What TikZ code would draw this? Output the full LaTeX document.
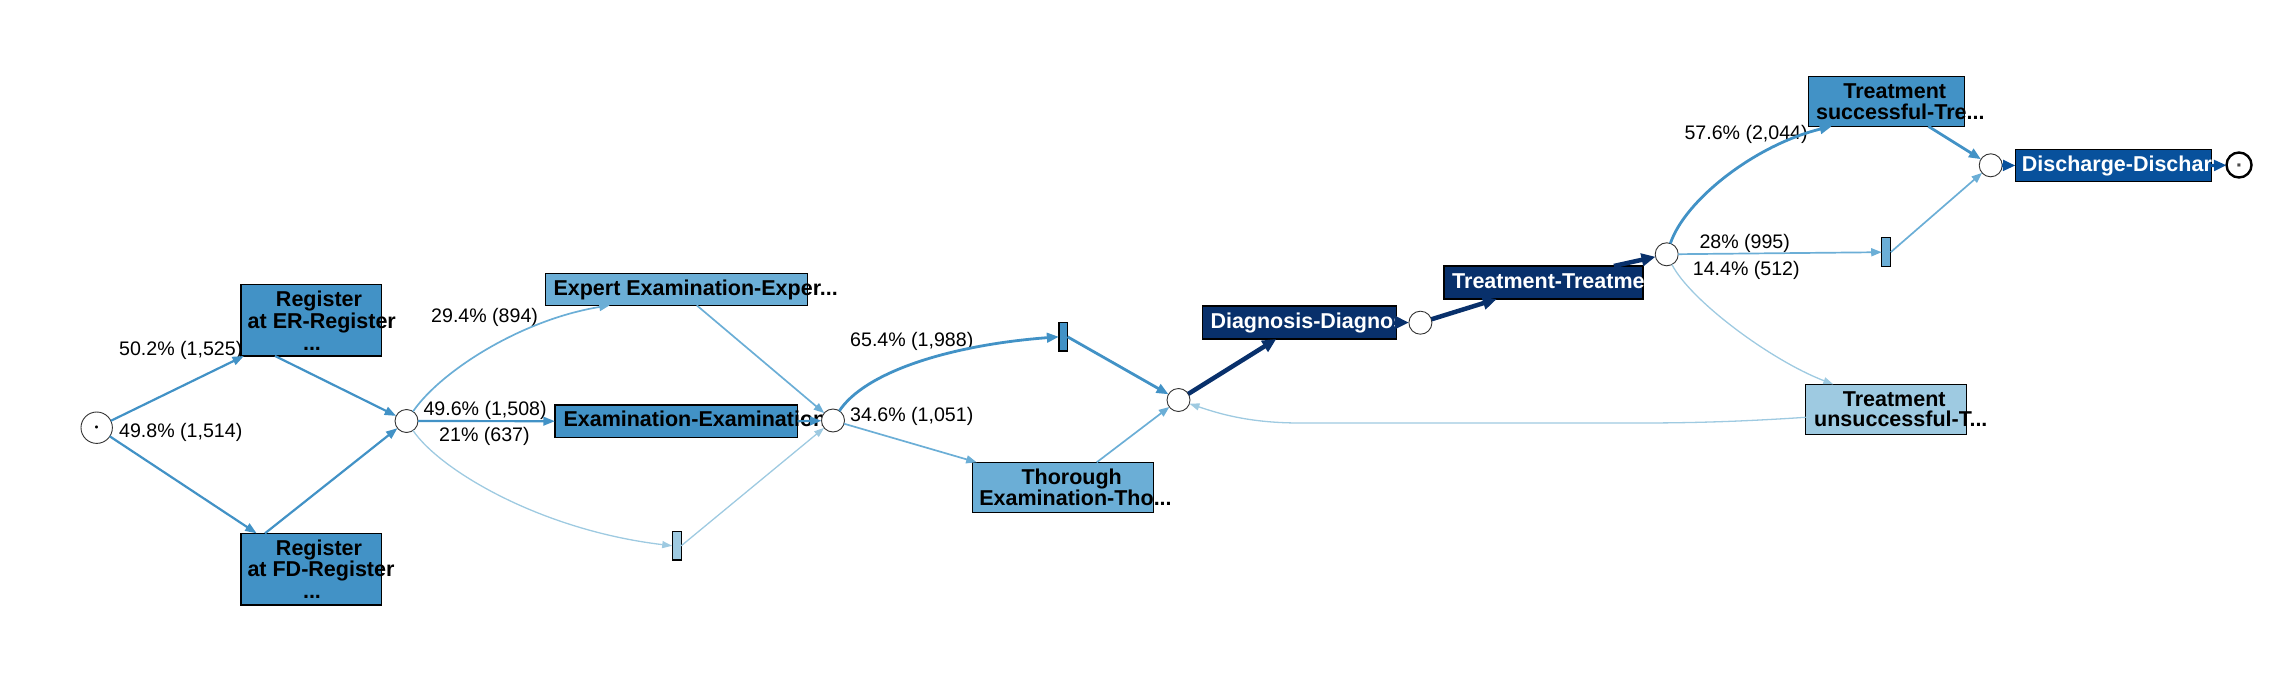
\documentclass[tikz,border=0pt]{standalone}
\usepackage{fontspec}
\setmainfont{Liberation Sans}
\newfontfamily\symfont{DejaVu Sans}
\usetikzlibrary{arrows.meta}
\definecolor{bA}{HTML}{9ECAE1}
\definecolor{bB}{HTML}{6BAED6}
\definecolor{bC}{HTML}{4292C6}
\definecolor{bD}{HTML}{08519C}
\definecolor{bE}{HTML}{08306B}
\begin{document}
\begin{tikzpicture}[x=1pt,y=-1pt,
  place/.style={circle,draw=black!80,line width=0.9pt,fill=white,minimum size=23pt,inner sep=0pt,outer sep=0pt},
  trans/.style={rectangle,draw=black,line width=1.3pt,inner sep=0pt,outer sep=0pt},
  lbl/.style={font=\fontsize{19.6}{23}\selectfont,inner sep=0pt,anchor=base west},
  btxt/.style={font=\fontsize{21.5}{25}\selectfont\bfseries,inner sep=0pt,anchor=base},
  btxtw/.style={btxt,anchor=base west},
  eA/.style={draw=bA,line width=1.3pt,-{Triangle[length=10pt,width=7pt]}},
  eB/.style={draw=bB,line width=1.7pt,-{Triangle[length=10.5pt,width=8pt]}},
  eC/.style={draw=bC,line width=2.2pt,-{Triangle[length=11.5pt,width=8.5pt]}},
  eCC/.style={draw=bC,line width=2.8pt,-{Triangle[length=12pt,width=9.5pt]}},
  eD/.style={draw=bD,line width=3.3pt,-{Triangle[length=12.5pt,width=10.5pt]}},
  eE/.style={draw=bE,line width=4.5pt,-{Triangle[length=14pt,width=12.5pt]}}
]
\useasboundingbox (0,0) rectangle (2282,674);

% transitions (boxes)
\node[trans,fill=bC,minimum width=140.7pt,minimum height=71.3pt] (regER) at (311.3,320.3) {};
\node[trans,fill=bC,minimum width=140.7pt,minimum height=71.7pt] (regFD) at (311.3,569.2) {};
\node[trans,fill=bB,minimum width=262pt,minimum height=32pt] (expert) at (676.7,289.3) {};
\node[trans,fill=bC,minimum width=242.7pt,minimum height=32.3pt] (exam) at (676.3,421.2) {};
\node[trans,fill=bA,minimum width=9pt,minimum height=28.3pt] (rb) at (676.7,545.8) {};
\node[trans,fill=bC,minimum width=8.7pt,minimum height=28.3pt] (ru) at (1063.2,336.8) {};
\node[trans,fill=bB,minimum width=181pt,minimum height=50pt] (thor) at (1062.8,487.3) {};
\node[trans,fill=bE,minimum width=194pt,minimum height=33pt] (diag) at (1299.3,322.5) {};
\node[trans,fill=bE,minimum width=199pt,minimum height=33pt] (treat) at (1543.6,282.5) {};
\node[trans,fill=bC,minimum width=156pt,minimum height=49.6pt] (tsucc) at (1886.3,101.5) {};
\node[trans,fill=bB,minimum width=9pt,minimum height=29pt] (rr) at (1886.2,252.2) {};
\node[trans,fill=bA,minimum width=161pt,minimum height=50pt] (tuns) at (1886.2,409.3) {};
\node[trans,fill=bD,minimum width=195.7pt,minimum height=32.4pt] (disch) at (2113.3,165.5) {};

% box texts
\node[btxt] (tR1) at (319,306.7) {Register};
\node[btxt] (tR2) at (321.8,328.3) {at ER-Register};
\node[btxt] (tR3) at (312,350) {...};
\node[btxt] (tF1) at (319,555.3) {Register};
\node[btxt] (tF2) at (321,576.9) {at FD-Register};
\node[btxt] (tF3) at (312,598.6) {...};
\node[btxtw] (tEx) at (553.3,295) {Expert Examination-Exper...};
\node[btxtw] (tEm) at (563.3,426.7) {Examination-Examination};
\node[btxt] (tT1) at (1071.7,484.3) {Thorough};
\node[btxt] (tT2) at (1075.5,505) {Examination-Tho...};
\node[btxtw,text=white] (tDg) at (1210.3,328.3) {Diagnosis-Diagnosis};
\node[btxtw,text=white] (tTr) at (1452,288.3) {Treatment-Treatment};
\node[btxt] (tS1) at (1894.7,98.3) {Treatment};
\node[btxt] (tS2) at (1900.3,120) {successful-Tre...};
\node[btxt] (tU1) at (1894.2,406) {Treatment};
\node[btxt] (tU2) at (1900.8,426.7) {unsuccessful-T...};
\node[btxtw,text=white] (tDc) at (2021.7,171) {Discharge-Discharge};

% places
\node[place,minimum size=31.4pt] (start) at (96.7,427.7) {};
\node[font=\symfont\fontsize{4}{4}\selectfont,inner sep=0pt] (sdot) at (start) {●};
\node[place] (c1) at (406.5,421) {};
\node[place] (c2) at (833,420.5) {};
\node[place] (c3) at (1178.5,400) {};
\node[place] (c4) at (1420.4,322.7) {};
\node[place] (c5) at (1666.7,254.3) {};
\node[place] (c6) at (1990.7,165.3) {};
\node[place,draw=black,line width=2.4pt,minimum size=25pt] (endc) at (2239,165) {};
\node[font=\symfont\fontsize{4}{4}\selectfont,inner sep=0pt,text=black!70] (edot) at (endc) {■};

% labels
\node[lbl] (l1) at (119,355) {50.2\% (1,525)};
\node[lbl] (l2) at (119,437.3) {49.8\% (1,514)};
\node[lbl] (l3) at (431,322.7) {29.4\% (894)};
\node[lbl] (l4) at (423.3,415) {49.6\% (1,508)};
\node[lbl] (l5) at (439,441.7) {21\% (637)};
\node[lbl] (l6) at (850,346.7) {65.4\% (1,988)};
\node[lbl] (l7) at (850,421.7) {34.6\% (1,051)};
\node[lbl] (l8) at (1684.3,139.3) {57.6\% (2,044)};
\node[lbl] (l9) at (1699.3,248.3) {28\% (995)};
\node[lbl] (l10) at (1692.7,275) {14.4\% (512)};

% edges
\draw[eC] (start) -- ([xshift=3pt]regER.south west);
\draw[eC] (start) -- ([xshift=15.7pt]regFD.north west);
\draw[eC] ([xshift=34pt]regER.south west) -- (c1);
\draw[eC] ([xshift=24pt]regFD.north west) -- (c1);
\draw[eB] (c1) .. controls (440,372) and (520,320) .. ([xshift=64pt]expert.south west);
\draw[eC] (c1) -- (exam.west);
\draw[eA] (c1) .. controls (440,470) and (540,530) .. (rb.west);
\draw[eB] ([xshift=151pt]expert.south west) -- (c2);
\draw[eC] (exam.east) -- (c2);
\draw[eA] (rb.east) -- (c2);
\draw[eCC] (c2) .. controls (865,372) and (950,345) .. (ru.west);
\draw[eB] (c2) -- ([xshift=4.4pt]thor.north west);
\draw[eCC] (ru.east) -- (c3);
\draw[eB] ([xshift=124.4pt]thor.north west) -- (c3);
\draw[eE] (c3) -- ([xshift=74pt]diag.south west);
\draw[eE] (diag.east) -- (c4);
\draw[eE] (c4) -- ([xshift=52.7pt]treat.south west);
\draw[eE] ([xshift=169.8pt]treat.north west) -- (c5);
\draw[eCC] (c5) .. controls (1685,200) and (1755,145) .. ([xshift=23.4pt]tsucc.south west);
\draw[eB] (c5) -- (rr.west);
\draw[eA] (c5) .. controls (1690,300) and (1770,360) .. ([xshift=27.6pt]tuns.north west);
\draw[eCC] ([xshift=120pt]tsucc.south west) -- (c6);
\draw[eB] (rr.east) -- (c6);
\draw[eD] (c6) -- (disch.west);
\draw[eD] (disch.east) -- (endc);
\draw[eA] ([yshift=-8pt]tuns.west) .. controls (1750,421) and (1700,423) .. (1640,423) -- (1300,423) .. controls (1250,423) and (1220,414) .. (c3);
\end{tikzpicture}
\end{document}
